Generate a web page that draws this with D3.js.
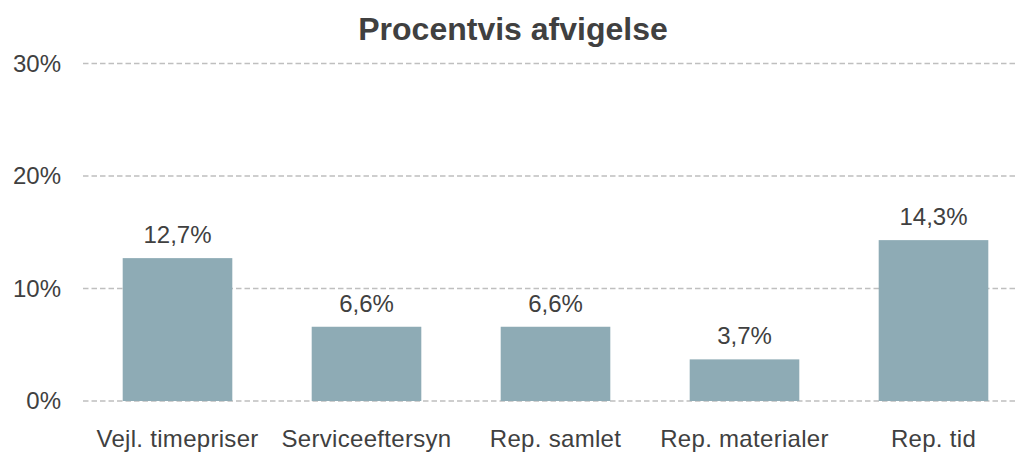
<!DOCTYPE html>
<html>
<head>
<meta charset="utf-8">
<script src="https://cdn.jsdelivr.net/npm/d3@7"></script>
<style>
  body { margin: 0; background: #fff; }
  text { font-family: "Liberation Sans", Arial, sans-serif; fill: #404040; }
</style>
</head>
<body>
<div id="chart"></div>
<script>
// data
let categories = ["Vejl. timepriser", "Serviceeftersyn", "Rep. samlet", "Rep. materialer", "Rep. tid"];
let values = [12.7, 6.6, 6.6, 3.7, 14.3];
let yTicks = [0, 10, 20, 30];
let chartTitle = "Procentvis afvigelse";

let width = 1015, height = 452;
let fmt = v => String(v.toFixed(1)).replace(".", ",") + "%";

let svg = d3.select("#chart").append("svg")
    .attr("width", width)
    .attr("height", height);

// scales
let x = d3.scaleBand()
    .domain(categories)
    .range([83, 1028])
    .paddingInner(0.42)
    .paddingOuter(0.21);

let y = d3.scaleLinear()
    .domain([0, 30])
    .range([401, 63.5]);

// gridlines
svg.append("g")
    .selectAll("line")
    .data(yTicks)
    .join("line")
    .attr("x1", 83)
    .attr("x2", 1028)
    .attr("y1", d => y(d))
    .attr("y2", d => y(d))
    .attr("stroke", "#bfbfbf")
    .attr("stroke-width", 1.3)
    .attr("stroke-dasharray", "5.5,3");

// y axis labels
let yAxis = d3.axisLeft(y)
    .tickValues(yTicks)
    .tickFormat(d => d + "%")
    .tickSize(0)
    .tickPadding(0);

svg.append("g")
    .attr("transform", "translate(61,0)")
    .call(yAxis)
    .call(g => g.select(".domain").remove())
    .selectAll("text")
    .attr("font-size", 24)
    .attr("font-family", null)
    .attr("fill", null);

// bars
svg.append("g")
    .selectAll("rect")
    .data(values)
    .join("rect")
    .attr("x", (d, i) => x(categories[i]))
    .attr("width", x.bandwidth())
    .attr("y", d => y(d))
    .attr("height", d => y(0) - y(d))
    .attr("fill", "#8eabb5");

// value labels
svg.append("g")
    .selectAll("text")
    .data(values)
    .join("text")
    .attr("x", (d, i) => x(categories[i]) + x.bandwidth() / 2)
    .attr("y", d => y(d) - 15)
    .attr("text-anchor", "middle")
    .attr("font-size", 24)
    .text(d => fmt(d));

// x axis labels
let xAxis = d3.axisBottom(x).tickSize(0).tickPadding(0);
svg.append("g")
    .attr("transform", "translate(0,430)")
    .call(xAxis)
    .call(g => g.select(".domain").remove())
    .selectAll("text")
    .attr("font-size", 24)
    .attr("letter-spacing", 0.3)
    .attr("font-family", null)
    .attr("fill", null);

// title
svg.append("text")
    .attr("x", 513)
    .attr("y", 40)
    .attr("text-anchor", "middle")
    .attr("font-size", 32)
    .attr("font-weight", "bold")
    .text(chartTitle);
</script>
</body>
</html>
